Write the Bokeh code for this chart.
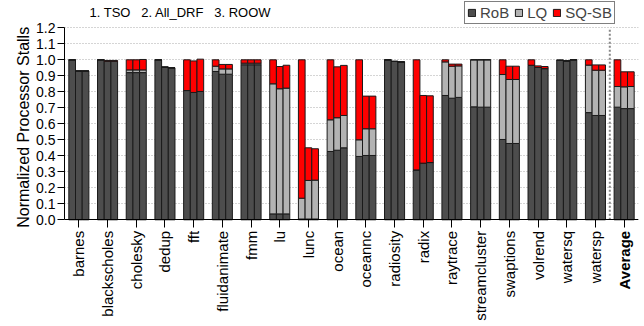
import numpy as np
from bokeh.plotting import figure
from bokeh.models import (ColumnDataSource, FixedTicker, Legend, LegendItem,
                          Label, PrintfTickFormatter, Range1d, Title)
from bokeh.transform import dodge
from bokeh.embed import file_html
from bokeh.resources import INLINE

# Benchmarks (last one is the average over all of them)
benchmarks = ["barnes", "blackscholes", "cholesky", "dedup", "fft", "fluidanimate",
              "fmm", "lu", "lunc", "ocean", "oceannc", "radiosity", "radix",
              "raytrace", "streamcluster", "swaptions", "volrend", "watersq",
              "watersp", "Average"]

# Stall breakdown per configuration: RoB, LQ and SQ-SB components
rob_tso = [1.0, 1.0, 0.92, 1.0, 0.808, 0.927, 0.969, 0.037, 0.005, 0.427,
           0.396, 1.0, 0.312, 0.777, 0.706, 0.502, 0.966, 0.997, 0.67, 0.704]
lq_tso = [0.0, 0.0, 0.017, 0.0, 0.0, 0.033, 0.01, 0.813, 0.13, 0.198,
          0.104, 0.0, 0.0, 0.21, 0.294, 0.406, 0.0, 0.0, 0.297, 0.129]
sq_tso = [0.0, 0.0, 0.063, 0.0, 0.192, 0.04, 0.021, 0.15, 0.865, 0.375,
          0.5, 0.0, 0.688, 0.013, 0.0, 0.092, 0.034, 0.0, 0.033, 0.167]

rob_drf = [0.93, 0.99, 0.92, 0.954, 0.796, 0.91, 0.969, 0.037, 0.005, 0.435,
           0.402, 0.99, 0.354, 0.76, 0.704, 0.477, 0.952, 0.993, 0.652, 0.695]
lq_drf = [0.0, 0.0, 0.017, 0.0, 0.0, 0.033, 0.01, 0.782, 0.241, 0.203,
          0.167, 0.0, 0.0, 0.2, 0.296, 0.4, 0.0, 0.0, 0.283, 0.136]
sq_drf = [0.0, 0.006, 0.063, 0.0, 0.197, 0.028, 0.021, 0.139, 0.204, 0.318,
          0.204, 0.0, 0.423, 0.013, 0.0, 0.083, 0.01, 0.0, 0.033, 0.094]

rob_roow = [0.93, 0.99, 0.92, 0.95, 0.802, 0.91, 0.969, 0.037, 0.005, 0.45,
            0.402, 0.987, 0.358, 0.765, 0.704, 0.477, 0.945, 1.0, 0.652, 0.695]
lq_roow = [0.0, 0.0, 0.017, 0.0, 0.0, 0.033, 0.01, 0.786, 0.243, 0.202,
           0.167, 0.0, 0.0, 0.197, 0.296, 0.4, 0.0, 0.0, 0.283, 0.138]
sq_roow = [0.0, 0.006, 0.065, 0.0, 0.202, 0.028, 0.021, 0.143, 0.196, 0.313,
           0.204, 0.0, 0.417, 0.011, 0.0, 0.083, 0.013, 0.0, 0.033, 0.092]

components = ["RoB", "LQ", "SQ-SB"]
colors = ["#4d4d4d", "#b3b3b3", "#ff0000"]
y_ticks = [0.0, 0.1, 0.2, 0.3, 0.4, 0.5, 0.6, 0.7, 0.8, 0.9, 1.0, 1.1, 1.2]

FONT = "Liberation Sans"
W, H = 644, 326
idx = list(range(len(benchmarks)))

# The frame spans the full canvas height so that the key above the plot and the
# labels under the category axis are drawn inside it; the value axis and its
# grid are limited to 0..1.2 (160 px per unit, zero line 107 px above the bottom).
PX_PER_UNIT = 160.0
ZERO_FROM_BOTTOM = 106.7
y_lo = -ZERO_FROM_BOTTOM / PX_PER_UNIT
y_hi = y_lo + H / PX_PER_UNIT

p = figure(width=W, height=H, output_backend="svg", toolbar_location=None,
           x_range=Range1d(-0.5, len(benchmarks) - 0.5), y_range=Range1d(y_lo, y_hi),
           min_border_left=64, min_border_right=6, min_border_top=0,
           min_border_bottom=0)
p.title.text = ""
p.title.visible = False

bar_w = 0.233
series = [(rob_tso, lq_tso, sq_tso, -bar_w),
          (rob_drf, lq_drf, sq_drf, 0.0),
          (rob_roow, lq_roow, sq_roow, bar_w)]
legend_renderers = None
for rob, lq, sq, off in series:
    src = ColumnDataSource(dict(x=idx, RoB=rob, LQ=lq, SQSB=sq))
    rs = p.vbar_stack(["RoB", "LQ", "SQSB"], x=dodge("x", off), width=bar_w,
                      source=src, fill_color=colors, line_color="#1a1a1a",
                      line_width=1)
    if legend_renderers is None:
        legend_renderers = rs

# dotted separator before the average group
sep_x = len(benchmarks) - 1.5
p.segment(x0=sep_x, y0=y_ticks[0], x1=sep_x, y1=y_ticks[-1],
          line_color="#888888", line_width=2, line_dash="2 2")

# category axis, pinned to the zero line
p.xaxis.fixed_location = 0
p.xaxis.ticker = FixedTicker(ticks=idx)
overrides = {i: name for i, name in zip(idx, benchmarks)}
overrides[idx[-1]] = ""
p.xaxis.major_label_overrides = overrides
p.xaxis.major_label_orientation = np.pi / 2
p.xaxis.major_label_text_font = FONT
p.xaxis.major_label_text_font_size = "15px"
p.xaxis.major_label_text_color = "black"
p.xaxis.major_tick_out = 8
p.xaxis.major_tick_in = 0
p.xaxis.minor_tick_line_color = None
p.xaxis.major_label_standoff = 3
p.xaxis.axis_line_color = "black"
p.xaxis.major_tick_line_color = "black"

# bold label for the average group
p.add_layout(Label(x=idx[-1], y=-11.0 / PX_PER_UNIT, text=benchmarks[-1],
                   angle=np.pi / 2, text_align="right", text_baseline="middle",
                   text_font=FONT, text_font_size="15px",
                   text_font_style="bold", text_color="black"))

p.yaxis.bounds = (y_ticks[0], y_ticks[-1])
p.yaxis.ticker = FixedTicker(ticks=y_ticks)
p.yaxis.formatter = PrintfTickFormatter(format="%.1f")
p.yaxis.major_label_text_font = FONT
p.yaxis.major_label_text_font_size = "14px"
p.yaxis.major_label_text_color = "black"
p.yaxis.major_tick_out = 7
p.yaxis.major_tick_in = 0
p.yaxis.minor_tick_line_color = None
p.yaxis.major_label_standoff = 2
p.yaxis.axis_line_color = "black"
p.yaxis.major_tick_line_color = "black"

# value-axis title, placed along the 0..1.2 span
p.add_layout(Title(text="Normalized Processor Stalls", align="left",
                   offset=ZERO_FROM_BOTTOM - 8, standoff=4,
                   text_font=FONT, text_font_size="16px",
                   text_font_style="normal", text_color="black"), "left")

p.xgrid.grid_line_color = None
p.ygrid.grid_line_color = "#aaaaaa"
p.ygrid.grid_line_dash = "1 2"
p.outline_line_color = None

# configuration key
p.add_layout(Label(x=25, x_units="screen", y=y_ticks[-1] + 15.0 / PX_PER_UNIT,
                   text="1. TSO\u00a0\u00a0 2. All_DRF\u00a0\u00a0 3. ROOW",
                   text_font=FONT, text_font_size="13px", text_baseline="middle",
                   text_color="black"))

legend = Legend(items=[LegendItem(label=c, renderers=[r])
                       for c, r in zip(components, legend_renderers)],
                orientation="horizontal", location=(400, 302),
                glyph_width=9, glyph_height=9, label_standoff=4, spacing=5,
                padding=2, margin=0, label_height=14,
                label_text_font=FONT, label_text_font_size="15px",
                border_line_color="black", border_line_width=1,
                background_fill_color="white", background_fill_alpha=1.0)
p.add_layout(legend)

open("out.html", "w").write(file_html(p, INLINE))
